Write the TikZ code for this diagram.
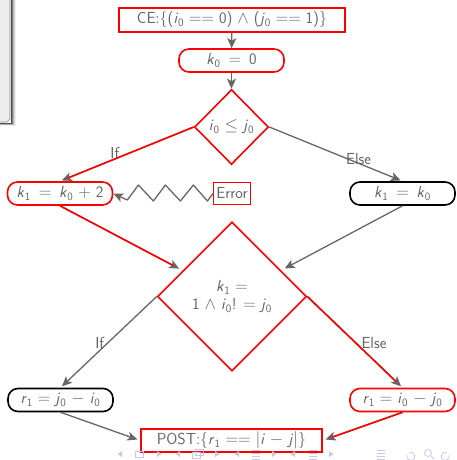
\documentclass[tikz,border=0pt]{standalone}
\usetikzlibrary{shapes.geometric,arrows.meta}
\definecolor{txtgray}{RGB}{100,100,100}
\definecolor{lngray}{RGB}{102,102,102}
\definecolor{navcol}{RGB}{200,200,235}
\newcommand\mv[2]{\textit{#1}\textsubscript{#2}}
\begin{document}
\begin{tikzpicture}[x=1pt,y=-1pt,
  every node/.style={font=\fontsize{16}{19}\selectfont\sffamily, text=txtgray},
  redrect/.style={draw=red, line width=1.6pt, rectangle, minimum height=24pt, inner sep=3pt},
  pill/.style={rounded corners=10pt, line width=1.6pt, minimum width=105pt, minimum height=23pt, inner sep=2pt},
  redpill/.style={pill, draw=red},
  blackpill/.style={pill, draw=black},
  reddiam/.style={diamond, draw=red, line width=1.6pt, inner sep=0pt, align=center},
  garrow/.style={draw=lngray, line width=1.3pt, -{Stealth[length=10pt,width=9pt,inset=2.5pt]}},
  rline/.style={draw=red, line width=1.6pt},
  lbl/.style={inner sep=0pt},
]
\useasboundingbox (0,0) rectangle (456,460);
% beamer side panel with shadow
\foreach \i/\o in {0/0.55,1/0.4,2/0.28,3/0.18,4/0.1,5/0.05}{
  \fill[black, opacity=\o] (-5,-5) rectangle ++(16+\i,128+0.6*\i);
}
\fill[white] (-5,-5) rectangle (10.5,123);
\fill[black!7, rounded corners=4pt] (-5,-5) rectangle (10,122);
\draw[black!45, line width=0.6pt, rounded corners=4pt] (-5,-5) -- (10,-5) -- (10,122) -- (-5,122);

% nodes
\node[redrect, minimum width=226pt] (ce) at (232,20) {CE:\{(\mv{i}{0} $==$ 0) $\wedge$ (\mv{j}{0} $==$ 1)\}};
\node[redpill] (k0) at (231.5,60.5) {\mv{k}{0}\enspace$=$\enspace0};
\node[reddiam, minimum width=74pt, minimum height=75pt] (d1) at (231.5,127) {\mv{i}{0} $\leq$ \mv{j}{0}};
\node[redpill] (k1a) at (60,193.5) {\mv{k}{1}\enspace$=$\enspace\mv{k}{0} $+$ 2};
\node[blackpill] (k1b) at (402.5,193.5) {\mv{k}{1}\enspace$=$\enspace\mv{k}{0}};
\node[draw=red, line width=0.8pt, inner sep=2.5pt, minimum height=22pt] (err) at (232,193) {Error};
\node[reddiam, minimum width=149pt, minimum height=149pt] (d2) at (232,296.5) {\mv{k}{1} $=$\\[-1pt]1 $\wedge$ \mv{i}{0}! $=$ \mv{j}{0}};
\node[blackpill] (r1a) at (60.5,400) {\mv{r}{1} $=$ \mv{j}{0} $-$ \mv{i}{0}};
\node[redpill] (r1b) at (402.5,400) {\mv{r}{1} $=$ \mv{i}{0} $-$ \mv{j}{0}};
\node[redrect, minimum width=181pt, minimum height=23pt] (post) at (231.5,440.5) {POST:\{\mv{r}{1} $==$ $|$\textit{i} $-$ \textit{j}$|$\}};

% connectors
\draw[garrow] (ce) -- (k0);
\draw[garrow] (k0) -- (d1);

\draw[garrow, shorten >=2pt] (d1.west) -- (k1a.north) node[lbl, pos=0.59, anchor=south] {If};
\draw[rline, shorten >=9pt] (d1.west) -- (k1a.north);
\draw[garrow, shorten >=2pt] (d1.east) -- (k1b.north) node[lbl, pos=0.67, anchor=south, yshift=-2pt] {Else};

% zigzag error connector
\draw[garrow, line join=round] (err.west) -- ++(-6,8) -- ++(-14,-16) -- ++(-13,16) -- ++(-15,-16)
   -- ++(-12,16) -- ++(-15,-16) -- ++(-11,15) -- (k1a.east);

\draw[garrow, shorten >=4pt] (k1a.south) -- (d2);
\draw[rline, shorten >=11pt] (k1a.south) -- (d2);
\draw[garrow, shorten >=4pt] (k1b.south) -- (d2);

\draw[garrow, shorten >=2pt] (d2.west) -- (r1a.north) node[lbl, pos=0.51, anchor=east, xshift=-3pt] {If};
\draw[garrow, shorten >=2pt] (d2.east) -- (r1b.north) node[lbl, pos=0.51, anchor=west, xshift=5pt] {Else};
\draw[rline, shorten >=9pt] (d2.east) -- (r1b.north);

\draw[garrow, shorten >=3pt] (r1a.south) -- (post.west);
\draw[garrow, shorten >=3pt] (r1b.south) -- (post.east);
\draw[rline, shorten >=10pt] (r1b.south) -- (post.east);

% navigation symbols
\begin{scope}[navcol, line width=0.8pt]
  \foreach \x in {120,178,237,293}{\fill (\x-2.5,454) -- (\x+2,451) -- (\x+2,457) -- cycle;}
  \foreach \x in {159,217,274,331}{\fill (\x+2.5,454) -- (\x-2,451) -- (\x-2,457) -- cycle;}
  \draw (135,451) rectangle (143,457);
  \draw (192,452) rectangle (200,458);
  \draw (195,449) rectangle (203,455);
  \foreach \x in {256,313,381}{
    \foreach \yy in {450,453,456,459}{\draw (\x-4,\yy) -- (\x+4,\yy);}
  }
  \draw (407,455) arc[start angle=200, end angle=-120, radius=4];
  \draw (428,453) circle[radius=3.5];
  \draw (430.5,455.5) -- (434,459);
  \draw (449,455) arc[start angle=-20, end angle=300, radius=4];
\end{scope}
\end{tikzpicture}
\end{document}
